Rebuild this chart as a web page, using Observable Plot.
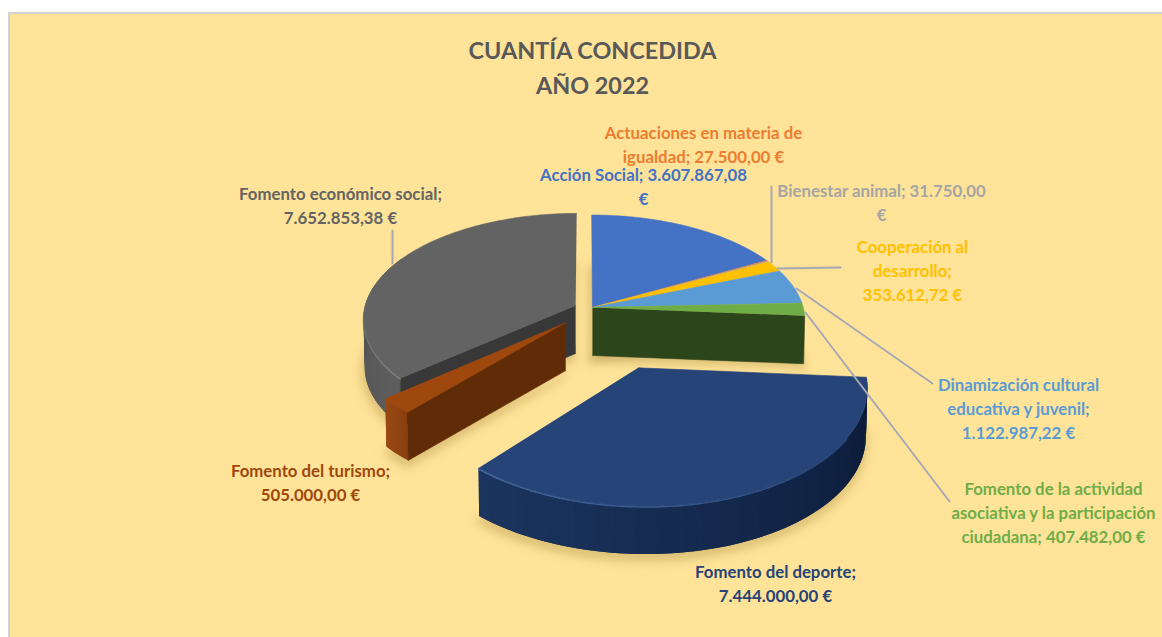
<!DOCTYPE html>
<html lang="es">
<head>
<meta charset="utf-8">
<title>Cuantía concedida 2022</title>
<script src="https://cdn.jsdelivr.net/npm/d3@7"></script>
<script src="https://cdn.jsdelivr.net/npm/@observablehq/plot@0.6"></script>
<style>html,body{margin:0;padding:0;background:#fff}svg{display:block}</style>
</head>
<body>
<div id="chart"></div>
<script>
// ---- values ----
const categories = ["Acción Social","Actuaciones en materia de igualdad","Bienestar animal","Cooperación al desarrollo","Dinamización cultural educativa y juvenil","Fomento de la actividad asociativa y la participación ciudadana","Fomento del deporte","Fomento del turismo","Fomento económico social"];
const amounts = [3607867.08,27500,31750,353612.72,1122987.22,407482,7444000,505000,7652853.38];
const titleLines = "CUANTÍA CONCEDIDA\nAÑO 2022";
const labelTexts = ["Acción Social; 3.607.867,08\n€","Actuaciones en materia de\nigualdad; 27.500,00 €","Bienestar animal; 31.750,00\n€","Cooperación al\ndesarrollo;\n353.612,72 €","Dinamización cultural\neducativa y juvenil;\n1.122.987,22 €","Fomento de la actividad\nasociativa y la participación\nciudadana; 407.482,00 €","Fomento del deporte;\n7.444.000,00 €","Fomento del turismo;\n505.000,00 €","Fomento económico social;\n7.652.853,38 €"];

// ---- styles and layout ----
const W = 1162, H = 637;
const topColors = ["#4472C4","#ED7D31","#A5A5A5","#FFC000","#5B9BD5","#70AD47","#264478","#9E480E","#636363"];
const textColors = topColors;
const labelAnchors = [[643,185],[703,143],[881,201],[912,269],[1018,407],[1053,511],[775,582],[310,481],[340,204]];
const explode = [[.033,-.01],[.033,-.01],[.033,-.01],[.033,-.01],[.033,-.01],[.033,-.01],[.233,-.55],[-.0926,-.152],[-.047,.01]];
const leaders = [[[771,186],[771,262]],[[777,268],[840,267]],[[796,288],[932,383]],[[805,312],[949,501]],[[392,230],[392,263]]];
const cx = 585, cy = 306, rx = 210.5, ry = 103.8, persp = .125, depth = 48;
const project = (X, V) => { const s = 1 / (1 + persp * V); return [cx + rx * X * s, cy - ry * V * s]; };

// ---- geometry derived from the values ----
const total = d3.sum(amounts);
const cum = d3.cumsum(amounts);
const slices = amounts.map((v, i) => ({
  i, a0: (cum[i] - v) / total * 2 * Math.PI, a1: cum[i] / total * 2 * Math.PI,
  ox: explode[i][0], ov: explode[i][1]
}));
const rim = (s, a) => project(s.ox + Math.sin(a), s.ov + Math.cos(a));
const apex = s => project(s.ox, s.ov);
const down = ([x, y]) => [cx + (x - cx) * .995, y + depth];
const arc = (s, a0 = s.a0, a1 = s.a1) => {
  const n = Math.max(2, Math.ceil((a1 - a0) / .02));
  return d3.range(n + 1).map(k => rim(s, a0 + (a1 - a0) * k / n));
};
const polys = []; let pid = 0;
const addPoly = (pts, color, line = color) => { pid++; pts.forEach(p => polys.push({x: p[0], y: p[1], id: pid, color, line})); };
const shadow = [];
let sid = 0;
const addShadow = s => {
  const top = [apex(s), ...arc(s)];
  sid++;
  top.map(down).forEach(([x, y]) => shadow.push({x: x - 1, y: y + 5, id: sid}));
};
// walls drawn as overlapping thin quads with a shade varying along the arc
const addWall = (s, a0, a1, c0, c1) => {
  const mix = d3.interpolateRgb(c0, c1);
  const n = Math.ceil((a1 - a0) / .02);
  const step = (a1 - a0) / n;
  for (let k = 0; k < n; k++) {
    const A = rim(s, a0 + step * k), B = rim(s, Math.min(a1, a0 + step * (k + 2)));
    addPoly([A, B, down(B), down(A)], mix(k / n), "none");
  }
};
const addRadial = (s, a, color) => {
  const A = apex(s), B = rim(s, a);
  addPoly([A, B, down(B), down(A)], color);
};
const addTop = s => addPoly([apex(s), ...arc(s)], topColors[s.i]);
const rimSegments = []; let rid = 0;
const addRim = (s, a0, a1, c0, c1) => {
  const mix = d3.interpolateRgb(c0, c1);
  const pts = arc(s, a0, a1);
  for (let k = 0; k < pts.length - 1; k++) {
    rid++;
    const c = mix(k / (pts.length - 2));
    [pts[k], pts[k + 1]].forEach(p => rimSegments.push({x: p[0], y: p[1] + 1, id: rid, color: c}));
  }
};

slices.forEach(addShadow);

// order: far to near
const [acc, igu, bie, coo, din, aso, dep, tur, eco] = slices;
// Fomento económico social
addWall(eco, eco.a0, eco.a0 + 1.2, "#5e5e5e", "#4e4e4e");
addRadial(eco, eco.a0, "#383838");
addTop(eco);
addRim(eco, eco.a0, eco.a0 + .9, "#7d7d7d", "#636363");
// group on the right
addRadial(aso, aso.a1, "#2D451A");
[acc, igu, bie, coo, din, aso].forEach(addTop);
// Fomento del turismo
addWall(tur, tur.a0, tur.a1, "#8a400e", "#9a4a14");
addRadial(tur, tur.a0, "#602C08");
addTop(tur);
// Fomento del deporte
addWall(dep, dep.a0, dep.a1, "#0b1a36", "#1c3560");
addTop(dep);
addRim(dep, dep.a0 + .5, dep.a1, "#26467c", "#44699f");

const leaderRows = leaders.flatMap((l, id) => l.map(p => ({x: p[0], y: p[1], id})));
const labels = labelTexts.map((text, i) => ({text, x: labelAnchors[i][0], y: labelAnchors[i][1], color: textColors[i]}));

const font = "Lato, 'Open Sans', sans-serif";
const chart = Plot.plot({
  width: W, height: H, margin: 0,
  style: {background: "#fff", fontFamily: font},
  x: {axis: null, domain: [0, W], range: [0, W]},
  y: {axis: null, domain: [0, H], range: [0, H]},
  color: {type: "identity"},
  marks: [
    Plot.rect([{}], {x1: 9, x2: W + 10, y1: 13, y2: H + 10, fill: "#FEE398", stroke: "#D2D2D2", strokeWidth: 2, clip: true}),
    Plot.line(shadow, {x: "x", y: "y", z: "id", fill: "#c9ab62", stroke: "#c9ab62", strokeWidth: 5, fillOpacity: .55, strokeOpacity: .55, curve: "linear", imageFilter: "blur(5px)"}),
    Plot.line(polys, {x: "x", y: "y", z: "id", fill: "color", stroke: "line", strokeWidth: .6, curve: "linear"}),
    Plot.line(rimSegments, {x: "x", y: "y", z: "id", stroke: "color", strokeWidth: 1.4, curve: "linear", imageFilter: "blur(.5px)"}),
    Plot.line(leaderRows, {x: "x", y: "y", z: "id", stroke: "#A6A9B3", strokeWidth: 2, curve: "linear"}),
    Plot.text(labels, {x: "x", y: "y", text: "text", fill: "color", fontSize: 16.8, fontWeight: 700, lineHeight: 1.41, lineAnchor: "middle", textAnchor: "middle"}),
    Plot.text([titleLines], {x: () => 592, y: () => 65, text: d => d, fill: "#595959", fontSize: 23.4, fontWeight: 700, lineHeight: 1.5, lineAnchor: "middle", textAnchor: "middle"})
  ]
});
document.getElementById("chart").append(chart);
</script>
</body>
</html>
